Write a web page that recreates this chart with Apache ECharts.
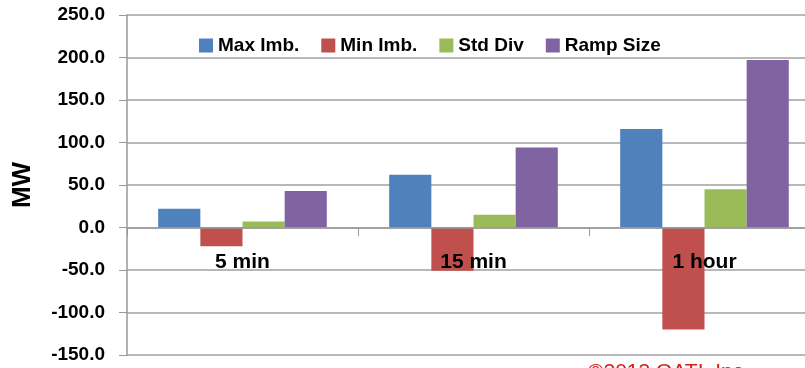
<!DOCTYPE html>
<html>
<head>
<meta charset="utf-8">
<script src="https://cdn.jsdelivr.net/npm/echarts@6/dist/echarts.min.js"></script>
<style>html,body{margin:0;padding:0;background:#fff;}#c{width:805px;height:368px;}</style>
</head>
<body>
<div id="c"></div>
<script>
var categories = ['5 min', '15 min', '1 hour'];
var maxImb = [22, 62, 116];
var minImb = [-22, -51, -120];
var stdDiv = [7, 15, 45];
var rampSize = [43, 94, 197];
var seriesNames = ['Max Imb.', 'Min Imb.', 'Std Div', 'Ramp Size'];
var colors = ['#4F81BD', '#C0504D', '#9BBB59', '#8064A2'];
var FONT = 'Liberation Sans';

var chart = echarts.init(document.getElementById('c'));
function bar(name, data, color) {
  return { name: name, type: 'bar', data: data, barGap: '0%', barCategoryGap: '27%',
    itemStyle: { color: color }, z: 2 };
}
chart.setOption({
  animation: false,
  color: colors,
  textStyle: { fontFamily: FONT },
  grid: { left: 127, right: -15, top: 15, bottom: 13, containLabel: false, outerBoundsMode: 'none' },
  legend: {
    left: 194, top: 31, itemWidth: 14, itemHeight: 14, itemGap: 22,
    icon: 'rect',
    textStyle: { fontFamily: FONT, fontWeight: 'bold', fontSize: 19, color: '#000' },
    data: seriesNames
  },
  xAxis: {
    type: 'category', data: categories, z: 10,
    position: 'bottom', offset: -127,
    axisLine: { onZero: false, lineStyle: { color: '#999', width: 1.5 } },
    axisTick: { show: true, length: 8, inside: false, alignWithLabel: false, lineStyle: { color: '#999' } },
    axisLabel: { margin: 24, fontFamily: FONT, fontWeight: 'bold', fontSize: 21, color: '#000' },
    splitLine: { show: false }
  },
  yAxis: {
    type: 'value', min: -150, max: 250, interval: 50,
    name: 'MW', nameLocation: 'middle', nameGap: 91, nameRotate: 90,
    nameTextStyle: { fontFamily: FONT, fontWeight: 'bold', fontSize: 26, color: '#000' },
    axisLine: { show: true, lineStyle: { color: '#999', width: 1.5 } },
    axisTick: { show: true, length: 8, lineStyle: { color: '#999' } },
    axisLabel: { margin: 22, fontFamily: FONT, fontWeight: 'bold', fontSize: 19, color: '#000',
      formatter: function (v) { return v.toFixed(1); } },
    splitLine: { show: true, lineStyle: { color: '#a0a0a0', width: 1.5 } }
  },
  graphic: [{
    type: 'text', left: 588, top: 362,
    style: { text: '©2013 OATI, Inc.', fill: '#d0201a', font: '21px "Liberation Sans"' }
  }],
  series: [
    bar(seriesNames[0], maxImb, colors[0]),
    bar(seriesNames[1], minImb, colors[1]),
    bar(seriesNames[2], stdDiv, colors[2]),
    bar(seriesNames[3], rampSize, colors[3])
  ]
});
</script>
</body>
</html>
